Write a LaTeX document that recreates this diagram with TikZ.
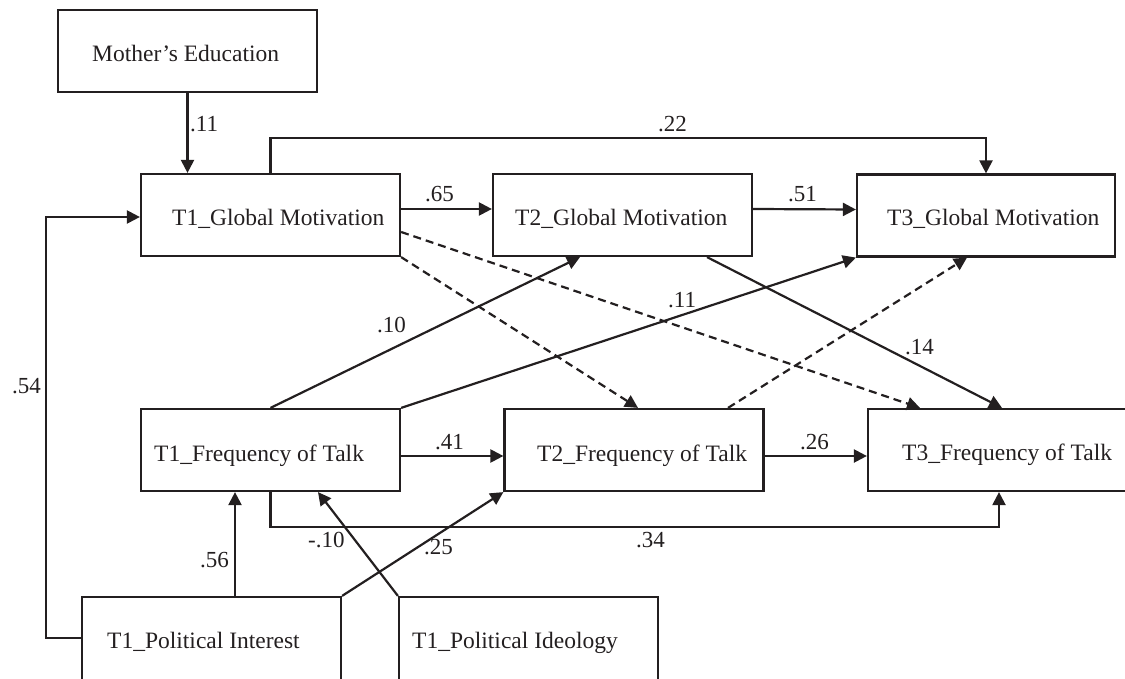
\documentclass[tikz,border=0pt]{standalone}
\usepackage{fontspec}
\setmainfont{Liberation Serif}
\usetikzlibrary{arrows.meta}
\definecolor{ink}{HTML}{231F20}
\begin{document}
\begin{tikzpicture}[x=1pt,y=-1pt,
  box/.style={draw=ink,line width=2.2pt,minimum width=259pt,minimum height=82pt,inner sep=0pt},
  lowbox/.style={box,minimum height=90pt},
  txt/.style={anchor=base west,inner sep=0pt,text=ink,font=\fontsize{23.5}{28}\selectfont},
  coef/.style={anchor=base west,inner sep=0pt,text=ink,font=\fontsize{23}{28}\selectfont},
  path/.style={draw=ink,line width=2.2pt,-{Triangle[length=13pt,width=13pt]}},
  dpath/.style={path,dash pattern=on 8pt off 5pt}]
\useasboundingbox (0,0) rectangle (1125,679);

% variables
\node[box] (med) at (187.5,51) {};
\node[box] (t1g) at (270.5,215) {};
\node[box] (t2g) at (622.5,215) {};
\node[box,minimum width=258pt] (t3g) at (986,215.5) {};
\node[box] (t1f) at (270.5,450) {};
\node[box] (t2f) at (634,450) {};
\node[box,minimum width=262pt] (t3f) at (999,450) {};
\node[lowbox] (pi) at (211.5,642) {};
\node[lowbox] (pid) at (528.5,642) {};

\node[txt] (medl) at (92,62) {Mother’s Education};
\node[txt] (t1gl) at (172,226) {T1\_Global Motivation};
\node[txt] (t2gl) at (515,226) {T2\_Global Motivation};
\node[txt] (t3gl) at (887,226) {T3\_Global Motivation};
\node[txt] (t1fl) at (154,461) {T1\_Frequency of Talk};
\node[txt] (t2fl) at (537,461) {T2\_Frequency of Talk};
\node[txt] (t3fl) at (902,460) {T3\_Frequency of Talk};
\node[txt] (pil) at (107,648) {T1\_Political Interest};
\node[txt] (pidl) at (412,648) {T1\_Political Ideology};

% paths
\draw[path] (med.south) -- (med.south |- t1g.north);
\draw[path] (t1g.north) -- ++(0,-35) -| (t3g.north);
\draw[path] ([yshift=6pt]t1g.east) -- ([yshift=6pt]t2g.west);
\draw[path] ([yshift=6pt]t2g.east) -- ([yshift=6pt]t3g.west);
\draw[path] ([yshift=4pt]pi.west) -- ++(-35,0) |- ([yshift=-2pt]t1g.west);
\draw[path] ([xshift=23.5pt]pi.north) -- ([xshift=23.5pt]pi.north |- t1f.south);
\draw[path] (pid.north west) -- ([xshift=47.5pt]t1f.south);
\draw[path] (pi.north east) -- (t2f.south west);
\draw[path] ([yshift=-6pt]t1f.east) -- ([yshift=-6pt]t2f.west);
\draw[path] ([yshift=-6pt]t2f.east) -- ([yshift=-6pt]t3f.west);
\draw[path] (t1f.south) -- ++(0,35) -| (t3f.south);
\draw[path] (t1f.north) -- ([xshift=-42.5pt]t2g.south);
\draw[path] (t1f.north east) -- (t3g.south west);
\draw[path] ([xshift=84.5pt]t2g.south) -- ([xshift=3pt]t3f.north);
\draw[dpath] (t1g.south east) -- ([xshift=4pt]t2f.north);
\draw[dpath] ([yshift=-17pt]t1g.east) -- ([xshift=-79pt]t3f.north);
\draw[dpath] ([xshift=94pt]t2f.north) -- ([xshift=-19pt]t3g.south);

% path coefficients
\node[coef] (c1) at (190,132) {.11};
\node[coef] (c2) at (658,132) {.22};
\node[coef] (c3) at (425,202) {.65};
\node[coef] (c4) at (788,202) {.51};
\node[coef] (c5) at (377,332) {.10};
\node[coef] (c6) at (668,308) {.11};
\node[coef] (c7) at (905,354) {.14};
\node[coef] (c8) at (12,393) {.54};
\node[coef] (c9) at (435,449) {.41};
\node[coef] (c10) at (800,449) {.26};
\node[coef] (c11) at (200,567) {.56};
\node[coef] (c12) at (308,547) {-.10};
\node[coef] (c13) at (424,554) {.25};
\node[coef] (c14) at (636,547) {.34};
\end{tikzpicture}
\end{document}
